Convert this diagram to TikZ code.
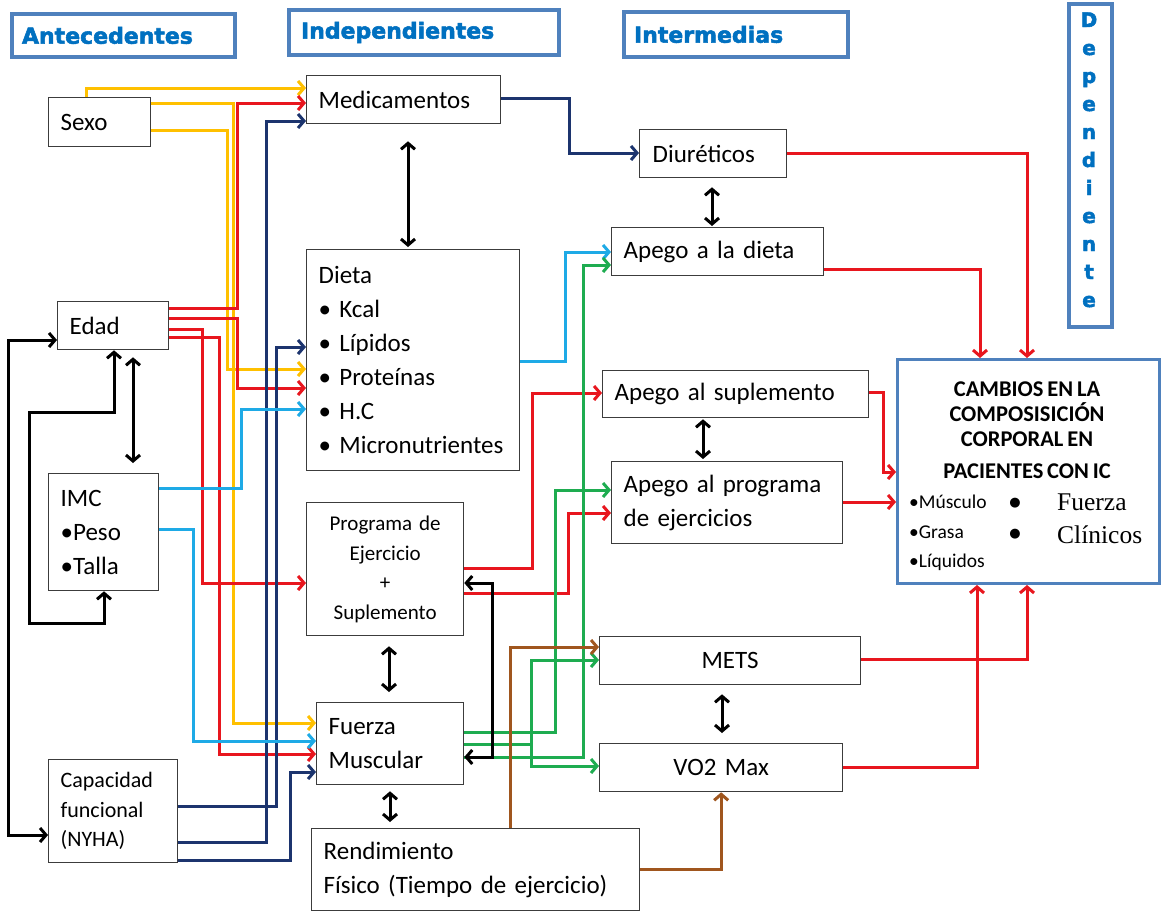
\documentclass[tikz,border=0pt]{standalone}
\usepackage{fontspec}
\setmainfont{Carlito}[WordSpace=0.75]
\newfontfamily\hdrfont{DejaVu Sans}[BoldFeatures={FakeBold=2.4}]
\newfontfamily\serfont{Liberation Serif}
\newfontfamily\symfont{DejaVu Sans}
\usetikzlibrary{arrows.meta}
\definecolor{cyel}{RGB}{255,192,0}
\definecolor{cred}{RGB}{232,22,30}
\definecolor{cnavy}{RGB}{28,52,110}
\definecolor{cblue}{RGB}{30,170,230}
\definecolor{cgreen}{RGB}{30,172,80}
\definecolor{cbrown}{RGB}{160,86,30}
\definecolor{hdrc}{RGB}{79,129,189}
\definecolor{hdrt}{RGB}{0,112,192}
\definecolor{boxc}{RGB}{60,60,60}
\tikzset{
  >={Straight Barb[length=6pt,width=14pt]},
  vbox/.style={draw=boxc, line width=1.3pt, fill=white, anchor=north west,
    inner xsep=12pt, inner ysep=0pt, align=left,
    font={\fontsize{25}{34}\selectfont}},
  hdr/.style={draw=hdrc, line width=4pt, fill=white, anchor=north west,
    inner xsep=12pt, inner ysep=0pt, align=left, text=hdrt,
    font={\hdrfont\bfseries\fontsize{22}{24}\selectfont}},
  deplet/.style={text=hdrt, inner sep=0pt, font={\hdrfont\bfseries\fontsize{20}{24}\selectfont}},
  conn/.style={line width=3pt, ->},
  cy/.style={conn, draw=cyel},
  cr/.style={conn, draw=cred},
  cn/.style={conn, draw=cnavy},
  cb/.style={conn, draw=cblue},
  cg/.style={conn, draw=cgreen},
  cbr/.style={conn, draw=cbrown},
  dbl/.style={line width=3pt, <->, draw=black},
}
\begin{document}
\begin{tikzpicture}[x=1pt,y=-1pt]
\useasboundingbox (0,0) rectangle (1161,911);
\fill[white] (0,0) rectangle (1161,911);

% headers
\node[hdr, inner xsep=10pt, text width=203pt, minimum height=43pt] (antec) at (10,12) {Antecedentes};
\node[hdr, text width=246pt, minimum height=45pt] (indep) at (287,8) {Independientes};
\node[hdr, inner xsep=10pt, text width=204pt, minimum height=45pt] (inter) at (622,10) {Intermedias};
\node[hdr, minimum width=43pt, minimum height=323pt, inner sep=0pt] (dep) at (1067,2) {};
\foreach \l [count=\i from 0] in {D,e,p,e,n,d,i,e,n,t,e}
  \node[deplet, anchor=base] (dl\i) at (1089,27+28*\i) {\l};

% boxes
\node[vbox, text width=78pt, minimum height=49pt] (sexo) at (48,97) {Sexo};
\node[vbox, text width=170pt, minimum height=48pt] (med) at (306,75) {Medicamentos};
\node[vbox, inner xsep=13pt, text width=121pt, minimum height=48pt] (diur) at (639,129) {Diuréticos};
\node[vbox, text width=188pt, minimum height=48pt] (apdieta) at (611,227) {Apego a la dieta};
\node[vbox, text width=189pt, minimum height=221pt] (dieta) at (306,249)
  {Dieta\\• Kcal\\• Lípidos\\• Proteínas\\• H.C\\• Micronutrientes};
\node[vbox, text width=87pt, minimum height=48pt] (edad) at (57,301) {Edad};
\node[vbox, text width=86pt, minimum height=117pt] (imc) at (48,473) {IMC\\•Peso\\•Talla};
\node[vbox, text width=105pt, minimum height=103pt, font={\fontsize{22}{29.5}\selectfont}] (capac) at (48,759)
  {Capacidad\\funcional\\(NYHA)};
\node[vbox, text width=242pt, minimum height=47pt] (apsup) at (602,370) {Apego al suplemento};
\node[vbox, text width=207pt, minimum height=82pt] (approg) at (611,461) {Apego al programa\\de ejercicios};
\node[vbox, align=center, text width=133pt, minimum height=133pt, font={\fontsize{21}{29.5}\selectfont}] (prog) at (306,502)
  {Programa de\\Ejercicio\\+\\Suplemento};
\node[vbox, align=center, text width=237pt, minimum height=48pt] (mets) at (599,636) {METS};
\node[vbox, align=center, text width=219pt, minimum height=48pt] (vo2) at (599,743) {VO2 Max};
\node[vbox, text width=123pt, minimum height=82pt] (fuerza) at (316,702) {Fuerza\\Muscular};
\node[vbox, text width=304pt, minimum height=82pt] (rend) at (311,828) {Rendimiento\\Físico (Tiempo de ejercicio)};

% outcome box
\node[draw=hdrc, line width=3pt, fill=white, anchor=north west, minimum width=262pt,
  minimum height=224pt, inner sep=0pt] (cambios) at (896,358) {};
\node[inner sep=0pt, align=center, font={\bfseries\fontsize{22.5}{25}\selectfont}] (ctitle) at (1027,430.5)
  {CAMBIOS EN LA\\COMPOSISICIÓN\\CORPORAL EN\\[6.7pt]PACIENTES CON IC};
\node[anchor=base west, inner sep=0pt, font={\fontsize{19.5}{24}\selectfont}] (mus) at (909,508) {•Músculo};
\node[anchor=base west, inner sep=0pt, font={\fontsize{19.5}{24}\selectfont}] (gra) at (909,538) {•Grasa};
\node[anchor=base west, inner sep=0pt, font={\fontsize{19.5}{24}\selectfont}] (liq) at (909,567) {•Líquidos};
\node[inner sep=0pt, font={\symfont\fontsize{13}{15}\selectfont}] (bul1) at (1015,503) {●};
\node[inner sep=0pt, font={\symfont\fontsize{13}{15}\selectfont}] (bul2) at (1015,534) {●};
\node[anchor=base west, inner sep=0pt, font={\serfont\fontsize{25.5}{30}\selectfont}] (fz) at (1057,510) {Fuerza};
\node[anchor=base west, inner sep=0pt, font={\serfont\fontsize{25.5}{30}\selectfont}] (cl) at (1057,543) {Clínicos};

% yellow
\draw[cy] (86,0 |- sexo.north) |- (med.west |- 0,88);
\draw[cy] (sexo.east |- 0,103) -| (233,723) -- (fuerza.west |- 0,723);
\draw[cy] (sexo.east |- 0,130) -| (227,369) -- (dieta.west |- 0,369);
% red
\draw[cr] (edad.east |- 0,308) -| (237,103) -- (med.west |- 0,103);
\draw[cr] (edad.east |- 0,318) -| (237,388) -- (dieta.west |- 0,388);
\draw[cr] (edad.east |- 0,329) -| (202,583) -- (prog.west |- 0,583);
\draw[cr] (edad.east |- 0,337) -| (219,754) -- (fuerza.west |- 0,754);
\draw[cr] (prog.east |- 0,568) -| (532,393) -- (apsup.west |- 0,393);
\draw[cr] (prog.east |- 0,593) -| (568,513) -- (approg.west |- 0,513);
\draw[cr] (diur.east |- 0,153) -| (1027,0 |- cambios.north);
\draw[cr] (apdieta.east |- 0,269) -| (980,0 |- cambios.north);
\draw[cr] (apsup.east |- 0,392) -| (883,472) -- (cambios.west |- 0,472);
\draw[cr] (approg.east |- 0,502) -- (cambios.west |- 0,502);
\draw[cr] (mets.east |- 0,659) -| (1027,0 |- cambios.south);
\draw[cr] (vo2.east |- 0,767) -| (977,0 |- cambios.south);
% navy
\draw[cn] (capac.east |- 0,842) -| (266,121) -- (med.west |- 0,121);
\draw[cn] (capac.east |- 0,806) -| (276,347) -- (dieta.west |- 0,347);
\draw[cn] (capac.east |- 0,860) -| (290,772) -- (fuerza.west |- 0,772);
\draw[cn] (med.east |- 0,98) -| (569,153) -- (diur.west |- 0,153);
% light blue
\draw[cb] (imc.east |- 0,488) -| (241,409) -- (dieta.west |- 0,409);
\draw[cb] (imc.east |- 0,529) -| (193,741) -- (fuerza.west |- 0,741);
\draw[cb] (dieta.east |- 0,361) -| (565,252) -- (apdieta.west |- 0,252);
% green
\draw[cg] (fuerza.east |- 0,732) -| (555,490) -- (approg.west |- 0,490);
\draw[cg] (fuerza.east |- 0,744) -| (531,660) -- (mets.west |- 0,660);
\draw[cg] (fuerza.east |- 0,744) -| (531,766) -- (vo2.west |- 0,766);
\draw[cg] (fuerza.east |- 0,757) -| (583,265) -- (apdieta.west |- 0,265);
% brown
\draw[cbr] (510,0 |- rend.north) |- (mets.west |- 0,647);
\draw[cbr] (rend.east |- 0,869) -| (vo2.south);
% black
\draw[dbl] (104,0 |- imc.south) |- (29,623) |- (114,412) -- (114,0 |- edad.south);
\draw[dbl] (edad.west |- 0,340) -| (8,835) -- (capac.west |- 0,835);
\draw[dbl] (prog.east |- 0,583) -| (492,757) -- (fuerza.east |- 0,757);
\draw[dbl, shorten <=17pt, shorten >=2pt] (408,0 |- med.south) -- (408,0 |- dieta.north);
\draw[dbl, shorten <=9pt, shorten >=1pt] (712,0 |- diur.south) -- (712,0 |- apdieta.north);
\draw[dbl, shorten <=1pt, shorten >=2pt] (703,0 |- apsup.south) -- (703,0 |- approg.north);
\draw[dbl, shorten <=9pt, shorten >=10pt] (722,0 |- mets.south) -- (722,0 |- vo2.north);
\draw[dbl, shorten <=10pt, shorten >=10pt] (389,0 |- prog.south) -- (389,0 |- fuerza.north);
\draw[dbl, shorten <=6pt, shorten >=6pt] (390,0 |- fuerza.south) -- (390,0 |- rend.north);
\draw[dbl, shorten <=7pt, shorten >=10pt] (133,0 |- edad.south) -- (133,0 |- imc.north);
\end{tikzpicture}
\end{document}
